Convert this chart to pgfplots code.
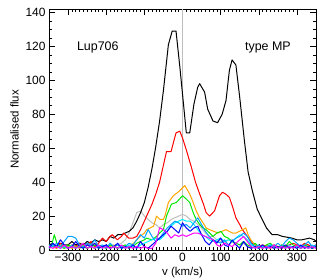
\documentclass[border=0pt]{standalone}
\usepackage{pgfplots}
\pgfplotsset{compat=1.18}
\usepackage{fontspec}
\setmainfont{Liberation Sans}
\definecolor{cOrange}{RGB}{255,165,0}
\definecolor{cGreen}{RGB}{0,230,0}
\definecolor{cGray}{RGB}{190,190,190}
\definecolor{cCyan}{RGB}{0,240,255}
\definecolor{cSky}{RGB}{0,160,255}
\definecolor{cBlue}{RGB}{0,0,255}
\definecolor{cMag}{RGB}{255,0,255}
\definecolor{cRed}{RGB}{255,0,0}
\begin{document}
\begin{tikzpicture}
\useasboundingbox (-49bp,-30bp) rectangle (278bp,250bp);
\begin{axis}[
  at={(0,0)}, anchor=south west,
  scale only axis, width=267bp, height=241bp,
  xmin=-350, xmax=350, ymin=0, ymax=142,
  xtick={-300,-200,-100,0,100,200,300},
  xticklabels={−300,−200,−100,0,100,200,300},
  ytick={0,20,40,60,80,100,120,140},
  minor x tick num=9, minor y tick num=3,
  tick align=inside,
  major tick length=6bp, minor tick length=3bp,
  /pgf/number format/assume math mode=true,
  tick label style={font=\fontsize{12}{14}\selectfont},
  label style={font=\fontsize{11.5}{13}\selectfont},
  xlabel={v (km/s)}, ylabel={Normalised flux},
  xlabel style={yshift=2bp},
  every axis plot/.append style={line width=1pt, line join=round},
  axis line style={line width=0.6pt},
  every tick/.style={black, line width=0.5pt},
]
\addplot[cGray, line width=1.4pt] coordinates {(0,0) (0,142)};
% gray
\addplot[cGray] coordinates {(-350,1)(-340,2)(-330,1)(-320,3)(-310,1)(-300,2)(-290,1)(-280,3)(-270,1)(-260,2)(-250,1)(-240,3)(-230,2)(-220,1)(-210,2)(-200,1)(-190,3)(-180,2)(-170,3)(-160,4)(-150,6)(-140,10)(-130,16)(-120,22)(-110,23)(-100,20)(-90,18)(-80,16)(-70,15)(-60,13)(-50,15)(-40,16)(-30,18)(-20,19)(-10,20)(0,21)(10,20)(20,18)(30,17)(40,15)(50,13)(60,10)(70,8)(80,8)(90,6)(100,5)(110,4)(120,6)(130,5)(140,3)(150,2)(160,4)(170,2)(180,1)(190,2)(200,1)(210,3)(220,1)(230,2)(240,1)(250,2)(260,1)(270,3)(280,1)(290,2)(300,1)(310,2)(320,1)(330,3)(340,1)(350,2)};
% black
\addplot[black] coordinates {(-350,3)(-340,4)(-330,2)(-320,4)(-310,3)(-300,3)(-290,5)(-280,3)(-270,4)(-260,3)(-250,5)(-240,4)(-230,6)(-220,5)(-210,6)(-200,5)(-190,8)(-180,7)(-170,9)(-160,9)(-150,10)(-140,11)(-130,13)(-120,17)(-110,22)(-100,28)(-90,37)(-80,48)(-70,61)(-60,76)(-50,94)(-37,121)(-27,129)(-17,129)(-7,108)(10,69)(19,69)(30,86)(40,96)(45,98)(58,93)(66,83)(80,76)(92,75)(104,80)(114,88)(123,106)(130,112)(140,109)(150,90)(162,65)(172,46)(183,35)(196,24)(209,18)(220,13)(235,9)(250,9)(262,8)(275,7.5)(287,7)(300,6)(313,6)(323,6.5)(333,7)(346,6)(350,5)};
% red
\addplot[cRed] coordinates {(-350,2)(-340,3)(-330,1)(-320,4)(-310,2)(-300,1)(-290,3)(-280,2)(-270,4)(-260,1)(-250,3)(-240,5)(-230,2)(-220,4)(-210,7)(-200,5)(-190,8)(-184,9)(-171,6)(-160,8)(-154,10)(-141,7)(-130,7)(-120,8)(-110,12)(-100,17)(-90,22)(-80,27)(-70,33)(-60,40)(-50,50)(-42,58)(-30,58)(-17,69)(-7,70)(0,66)(10,59)(23,49)(34,40)(45,33)(55,27)(62,22)(71,20)(84,23)(97,32)(105,34)(113,33)(123,31)(132,25)(140,19)(150,15)(157,12)(170,8)(183,4)(190,3)(200,2)(210,3)(220,2)(230,1)(240,3)(250,2)(260,1)(270,2)(280,3)(290,4)(300,3)(310,2)(320,4)(330,3)(340,2)(350,3)};
% orange
\addplot[cOrange] coordinates {(-350,1)(-340,2)(-330,1)(-320,3)(-310,1)(-300,2)(-290,1)(-280,2)(-270,1)(-260,3)(-250,1)(-240,2)(-230,1)(-220,3)(-210,2)(-200,1)(-190,2)(-180,3)(-170,1)(-160,2)(-150,1)(-140,2)(-128,4)(-120,6)(-111,8)(-100,10)(-94,12)(-85,13)(-76,14)(-68,20)(-59,18)(-50,18)(-46,20)(-37,28)(-24,32)(-12,34)(-7,35)(6,38)(19,33)(28,28)(36,23)(45,19)(54,16)(62,13)(71,12)(82,11)(93,10)(103,11)(114,12)(122,11)(131,10)(140,10)(149,11)(158,12)(166,13)(172,9)(179,6)(190,3)(200,2)(210,1)(220,3)(230,1)(240,2)(250,1)(260,3)(270,2)(280,1)(290,2)(300,3)(310,1)(320,2)(330,1)(340,2)(350,1)};
% green
\addplot[cGreen] coordinates {(-350,2)(-343,3)(-336,9)(-328,3)(-320,2)(-310,1)(-300,3)(-290,2)(-280,1)(-270,3)(-260,2)(-250,1)(-240,2)(-230,3)(-220,1)(-210,2)(-200,1)(-190,3)(-180,2)(-170,1)(-160,2)(-150,3)(-140,1)(-130,2)(-120,4)(-110,5)(-100,6)(-94,7)(-80,6)(-68,8)(-60,10)(-50,12)(-42,20)(-29,27)(-16,28)(0,32)(10,30)(19,28)(28,22)(36,18)(45,15)(54,13)(62,12)(71,10)(80,8)(90,10)(101,11)(110,8)(120,7)(130,5)(140,4)(150,3)(160,5)(170,3)(180,2)(190,4)(200,2)(210,1)(220,3)(230,4)(240,2)(250,1)(260,3)(270,2)(280,5)(290,3)(300,2)(310,1)(320,3)(330,2)(340,1)(350,2)};
% cyan
\addplot[cCyan] coordinates {(-350,1)(-340,3)(-330,2)(-320,1)(-310,2)(-300,1)(-290,3)(-280,1)(-270,2)(-260,1)(-250,3)(-240,2)(-230,1)(-220,2)(-210,1)(-200,3)(-190,1)(-180,2)(-170,1)(-160,2)(-150,1)(-140,3)(-130,2)(-120,1)(-110,3)(-100,4)(-90,5)(-80,6)(-70,7)(-60,6)(-50,8)(-40,11)(-30,14)(-20,16)(-10,17)(0,18)(10,17)(20,17)(30,15)(40,12)(50,9)(60,8)(70,6)(80,5)(90,6)(100,7)(110,5)(120,6)(130,5)(140,7)(150,9)(160,8)(170,6)(180,3)(190,2)(200,1)(210,2)(220,1)(230,3)(240,2)(250,1)(260,2)(270,1)(280,3)(290,1)(300,2)(310,1)(320,2)(330,1)(340,3)(350,1)};
% sky blue
\addplot[cSky] coordinates {(-350,3)(-340,2)(-330,4)(-320,2)(-310,5)(-300,8)(-290,8)(-280,7)(-270,3)(-260,2)(-250,4)(-240,3)(-230,6)(-220,2)(-210,3)(-200,1)(-190,4)(-180,2)(-170,3)(-160,1)(-150,2)(-140,4)(-130,3)(-120,6)(-110,9)(-100,7)(-90,12)(-80,8)(-70,5)(-60,7)(-50,10)(-40,13)(-30,15)(-20,17)(-10,16)(0,14)(10,15)(20,13)(30,16)(40,19)(50,15)(60,11)(70,8)(80,6)(90,5)(100,4)(110,6)(120,3)(130,5)(140,7)(150,8)(160,10)(170,8)(180,4)(190,2)(200,3)(210,1)(220,2)(230,3)(240,2)(250,4)(260,2)(270,5)(280,7)(290,6)(300,4)(310,2)(320,3)(330,5)(340,2)(350,3)};
% blue
\addplot[cBlue] coordinates {(-350,1)(-340,4)(-330,2)(-320,6)(-310,3)(-300,1)(-290,2)(-280,5)(-270,2)(-260,1)(-250,3)(-240,2)(-230,4)(-220,1)(-210,2)(-200,3)(-190,1)(-180,2)(-170,4)(-160,1)(-150,2)(-140,1)(-130,3)(-120,1)(-110,5)(-100,2)(-90,1)(-80,3)(-70,5)(-60,7)(-50,9)(-40,11)(-30,14)(-20,12)(-10,10)(0,16)(10,13)(20,11)(30,13)(40,14)(50,9)(60,5)(70,3)(80,6)(90,4)(100,7)(110,3)(120,2)(130,6)(140,3)(150,1)(160,5)(170,2)(180,1)(190,2)(200,1)(210,3)(220,1)(230,2)(240,1)(250,2)(260,1)(270,3)(280,1)(290,2)(300,1)(310,3)(320,1)(330,2)(340,1)(350,2)};
% magenta
\addplot[cMag] coordinates {(-350,2)(-340,1)(-330,2)(-320,1)(-310,3)(-300,1)(-290,2)(-280,1)(-270,2)(-260,4)(-250,1)(-240,2)(-230,1)(-220,3)(-210,1)(-200,2)(-190,1)(-180,2)(-170,1)(-160,3)(-150,1)(-140,2)(-130,1)(-120,2)(-110,1)(-100,2)(-90,1)(-80,1)(-70,4)(-60,13)(-50,12)(-40,10)(-30,7)(-20,9)(-10,8)(0,9)(10,8)(20,9)(30,10)(40,10)(50,9)(60,8)(70,7)(80,6)(90,3)(100,2)(110,4)(120,3)(130,2)(140,4)(150,6)(160,8)(170,5)(180,2)(190,1)(200,2)(210,1)(220,2)(230,1)(240,3)(250,1)(260,2)(270,1)(280,2)(290,1)(300,3)(310,1)(320,2)(330,1)(340,2)(350,1)};
\node[font=\fontsize{12.5}{14}\selectfont] at (axis cs:-222,119.5) {Lup706};
\node[font=\fontsize{12.5}{14}\selectfont] at (axis cs:224,119.5) {type MP};
\end{axis}
\end{tikzpicture}
\end{document}
